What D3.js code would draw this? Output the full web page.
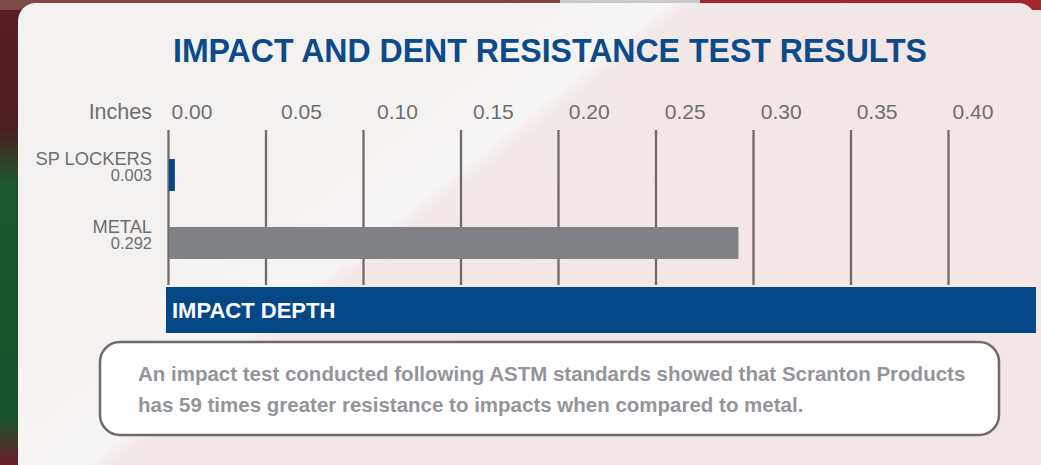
<!DOCTYPE html>
<html>
<head>
<meta charset="utf-8">
<script src="https://cdn.jsdelivr.net/npm/d3@7"></script>
<style>
  html, body { margin: 0; padding: 0; background: #fff; }
  svg { display: block; font-family: "Liberation Sans", Arial, sans-serif; }
</style>
</head>
<body>
<div id="chart"></div>
<script>
// chart values
var categories = ['SP LOCKERS', 'METAL'];
var depths = [0.003, 0.292];
var depthLabels = ['0.003', '0.292'];
var barColors = ['#034787', '#808184'];
var tickValues = [0, 0.05, 0.10, 0.15, 0.20, 0.25, 0.30, 0.35, 0.40];
var tickLabels = ['0.00', '0.05', '0.10', '0.15', '0.20', '0.25', '0.30', '0.35', '0.40'];
var noteLines = [
  'An impact test conducted following ASTM standards showed that Scranton Products',
  'has 59 times greater resistance to impacts when compared to metal.'
];

var W = 1041, H = 465;
var BLUE = '#034787', GRAY_TXT = '#6d6e71', LINE = '#706a69';

var svg = d3.select('#chart').append('svg').attr('width', W).attr('height', H);
var defs = svg.append('defs');

// photo-ish backdrop around the card
var sideGrad = defs.append('linearGradient').attr('id', 'side').attr('x1', 0).attr('y1', 0).attr('x2', 0).attr('y2', 1);
sideGrad.append('stop').attr('offset', '0').attr('stop-color', '#5b1b26');
sideGrad.append('stop').attr('offset', '0.28').attr('stop-color', '#4a1f24');
sideGrad.append('stop').attr('offset', '0.4').attr('stop-color', '#1c5a2c');
sideGrad.append('stop').attr('offset', '0.9').attr('stop-color', '#17512a');
sideGrad.append('stop').attr('offset', '1').attr('stop-color', '#6a1c2a');
svg.append('rect').attr('width', W).attr('height', H).attr('fill', '#f3e6e6');
svg.append('rect').attr('width', 40).attr('height', H).attr('fill', 'url(#side)');
svg.append('rect').attr('x', 0).attr('width', 560).attr('height', 10).attr('fill', '#7a4a44');
svg.append('rect').attr('x', 560).attr('width', 140).attr('height', 10).attr('fill', '#c9c9cc');
svg.append('rect').attr('x', 700).attr('width', W - 700).attr('height', 10).attr('fill', '#a3262f');

// card
var cardGrad = defs.append('linearGradient').attr('id', 'card').attr('gradientUnits', 'userSpaceOnUse')
  .attr('x1', 620).attr('y1', -94).attr('x2', 774).attr('y2', 100);
cardGrad.append('stop').attr('offset', '0').attr('stop-color', '#f4f2f0');
cardGrad.append('stop').attr('offset', '0.42').attr('stop-color', '#f6f5f5');
cardGrad.append('stop').attr('offset', '0.5').attr('stop-color', '#f3e8e8');
cardGrad.append('stop').attr('offset', '1').attr('stop-color', '#f2e6e6');
svg.append('rect').attr('x', 18).attr('y', 3).attr('width', 1018).attr('height', 480)
  .attr('rx', 18).attr('fill', 'url(#card)');

// title
svg.append('text').attr('x', 550).attr('y', 62).attr('text-anchor', 'middle')
  .attr('font-size', 34).attr('font-weight', 'bold').attr('fill', '#0b4a8b')
  .attr('textLength', 754).attr('lengthAdjust', 'spacingAndGlyphs')
  .text('IMPACT AND DENT RESISTANCE TEST RESULTS');

// scales
var x = d3.scaleLinear().domain([0, 0.4]).range([168, 948]);
var labelX = d3.scaleLinear().domain([0, 0.05, 0.4]).range([192, 301.5, 973]);
var y = d3.scaleBand().domain(categories).range([141, 277]).paddingInner(0.53).paddingOuter(0.265);

// grid lines via axis ticks
var axis = d3.axisBottom(x).tickValues(tickValues).tickSize(155).tickFormat('');
var g = svg.append('g').attr('transform', 'translate(0,130)').call(axis);
g.select('.domain').remove();
g.selectAll('.tick line').attr('stroke', LINE).attr('stroke-width', 2.3);

svg.append('g').selectAll('text').data(tickValues).enter().append('text')
  .attr('x', function (d) { return labelX(d); })
  .attr('y', 119)
  .attr('text-anchor', 'middle')
  .attr('font-size', 21).attr('fill', GRAY_TXT)
  .text(function (d, i) { return tickLabels[i]; });

svg.append('text').attr('x', 152).attr('y', 119).attr('text-anchor', 'end')
  .attr('font-size', 21.5).attr('fill', GRAY_TXT).text('Inches');

// bars
svg.append('g').selectAll('rect').data(depths).enter().append('rect')
  .attr('x', x(0) + 1)
  .attr('y', function (d, i) { return y(categories[i]); })
  .attr('width', function (d) { return x(d) - x(0); })
  .attr('height', y.bandwidth())
  .attr('fill', function (d, i) { return barColors[i]; });

// category labels
var lab = svg.append('g').selectAll('g').data(categories).enter().append('g')
  .attr('transform', function (d) { return 'translate(152,' + (y(d) + y.bandwidth() / 2) + ')'; });
lab.append('text').attr('y', -10.5).attr('text-anchor', 'end')
  .attr('font-size', 18.3).attr('fill', GRAY_TXT).text(function (d) { return d; });
lab.append('text').attr('y', 5.5).attr('text-anchor', 'end')
  .attr('font-size', 16.5).attr('fill', GRAY_TXT).text(function (d, i) { return depthLabels[i]; });

// impact depth band
svg.append('rect').attr('x', 166).attr('y', 287).attr('width', 1036 - 166).attr('height', 46).attr('fill', BLUE);
svg.append('text').attr('x', 172).attr('y', 318).attr('font-size', 22).attr('font-weight', 'bold')
  .attr('fill', '#fff').text('IMPACT DEPTH');

// note box
svg.append('rect').attr('x', 100).attr('y', 342).attr('width', 899).attr('height', 93)
  .attr('rx', 20).attr('fill', '#fff').attr('stroke', LINE).attr('stroke-width', 2.5);
svg.append('g').selectAll('text').data(noteLines).enter().append('text')
  .attr('x', 138).attr('y', function (d, i) { return 381 + i * 31; })
  .attr('font-size', 20.5).attr('font-weight', 'bold').attr('fill', '#939598')
  .text(function (d) { return d; });
</script>
</body>
</html>
